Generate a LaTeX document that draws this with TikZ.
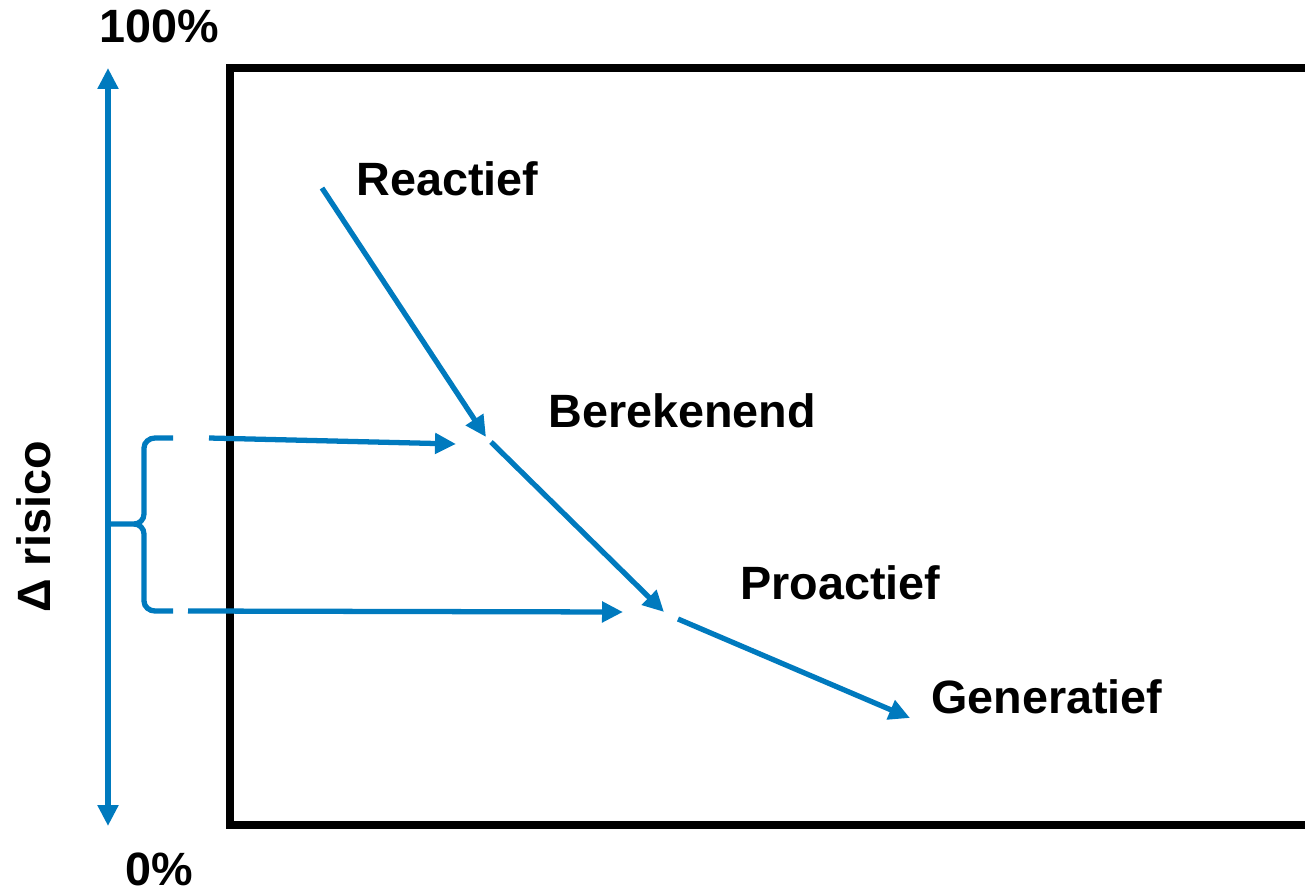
\documentclass[tikz,border=0pt]{standalone}
\usepackage{fontspec}
\setmainfont{Liberation Sans}
\usetikzlibrary{arrows.meta, positioning}
\definecolor{riskblue}{RGB}{0,122,190}

\begin{document}
\begin{tikzpicture}[
  x=0.02cm, y=-0.02cm,
  frame/.style={draw=black, line width=4pt},
  arrow/.style={draw=riskblue, line width=3pt, -{Triangle[length=0.42cm, width=0.4cm]}},
  bracket/.style={draw=riskblue, line width=3pt},
  tag/.style={font=\fontsize{26.6}{30}\selectfont\bfseries, anchor=base west, inner sep=0pt}
]
\useasboundingbox (0,0) rectangle (1305,889);

% box
\draw[frame] (230,68) rectangle (1315,825);

% scale labels
\node[tag] (full) at (99,42) {100\%};
\node[tag] (zero) at (125,885) {0\%};
\node[tag, rotate=90] (delta) at (51,613) {Δ risico};

% stages
\node[tag] (reac) at (356,195) {Reactief};
\node[tag] (bere) at (548,427) {Berekenend};
\node[tag] (proa) at (740,599) {Proactief};
\node[tag] (gene) at (931,713) {Generatief};

\coordinate (top) at (108,68);
\coordinate (bot) at (108,826);
\coordinate (r0) at (322,188);
\coordinate (r1) at (486,437);
\coordinate (b0) at (491,442);
\coordinate (b1) at (664,612);
\coordinate (p0) at (678,619);
\coordinate (p1) at (910,718);
\coordinate (u0) at (209,438);
\coordinate (u1) at (456,444);
\coordinate (l0) at (188,611);
\coordinate (l1) at (623,612);
\coordinate (tip) at (110,524);

\draw[riskblue, line width=3pt, {Triangle[length=0.42cm, width=0.4cm]}-{Triangle[length=0.42cm, width=0.4cm]}] (top) -- (bot);

\draw[arrow] (r0) -- (r1);
\draw[arrow] (b0) -- (b1);
\draw[arrow] (p0) -- (p1);
\draw[arrow] (u0) -- (u1);
\draw[arrow] (l0) -- (l1);

% brace
\draw[bracket] (173,438) -- (155,438) to[out=180,in=90] (144,448) -- (144,514)
  to[out=-90,in=0] (134,524) -- (tip);
\draw[bracket] (134,524) to[out=0,in=90] (144,534) -- (144,601)
  to[out=-90,in=180] (155,611) -- (173,611);

\end{tikzpicture}
\end{document}
